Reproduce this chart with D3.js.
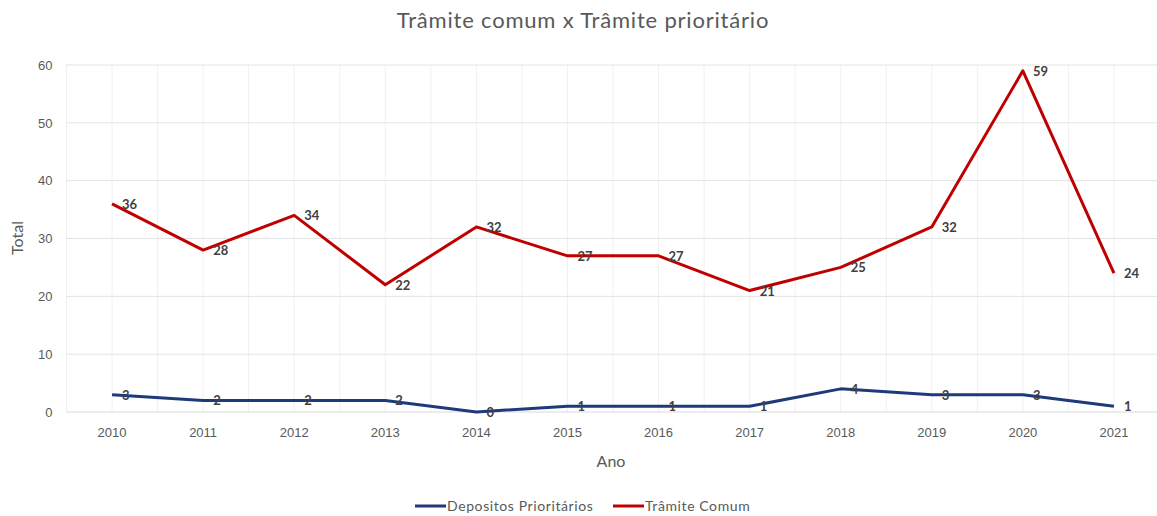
<!DOCTYPE html>
<html>
<head>
<meta charset="utf-8">
<script src="https://cdn.jsdelivr.net/npm/d3@7"></script>
<style>
  html, body { margin: 0; padding: 0; background: #fff; }
  svg { display: block; font-family: Lato, "Open Sans", "Liberation Sans", sans-serif; }
</style>
</head>
<body>
<svg id="chart" width="1157" height="516"></svg>
<script>
const anos = ["2010","2011","2012","2013","2014","2015","2016","2017","2018","2019","2020","2021"];
const depositosPrioritarios = [3,2,2,2,0,1,1,1,4,3,3,1];
const tramiteComum = [36,28,34,22,32,27,27,21,25,32,59,24];
const yTicks = [0,10,20,30,40,50,60];

const svg = d3.select("#chart");
const plotLeft = 66.5, plotRight = 1159.5, plotTop = 65, plotBottom = 412;

const x = d3.scaleBand().domain(anos).range([plotLeft, plotRight]);
const y = d3.scaleLinear().domain([0, 60]).range([plotBottom, plotTop]);
const cx = d => x(d) + x.bandwidth() / 2;

// vertical gridlines: category centres and boundaries
const vLines = [];
anos.forEach(a => { vLines.push(x(a)); vLines.push(cx(a)); });
svg.append("g").selectAll("line").data(vLines).join("line")
  .attr("x1", d => d).attr("x2", d => d)
  .attr("y1", plotTop).attr("y2", plotBottom)
  .attr("stroke", "#f0f0f0").attr("stroke-width", 1);

// horizontal gridlines
svg.append("g").selectAll("line").data(yTicks).join("line")
  .attr("x1", plotLeft).attr("x2", plotRight)
  .attr("y1", d => y(d)).attr("y2", d => y(d))
  .attr("stroke", d => d === 0 ? "#d9d9d9" : "#e3e3e3").attr("stroke-width", 1);

// y axis labels
const yAxis = d3.axisLeft(y).tickValues(yTicks).tickSize(0).tickPadding(14);
svg.append("g").attr("transform", `translate(${plotLeft},0)`).call(yAxis)
  .call(g => g.select(".domain").remove())
  .selectAll("text").attr("fill", "#595959").attr("font-size", 13);

// x axis labels
const xAxis = d3.axisBottom(x).tickSize(0).tickPadding(16);
svg.append("g").attr("transform", `translate(0,${plotBottom})`).call(xAxis)
  .call(g => g.select(".domain").remove())
  .selectAll("text").attr("fill", "#595959").attr("font-size", 13);

// title
svg.append("text").attr("x", 583).attr("y", 28).attr("text-anchor", "middle")
  .attr("fill", "#595959").attr("font-size", 22).attr("letter-spacing", 0.8)
  .text("Trâmite comum x Trâmite prioritário");

// axis titles
svg.append("text").attr("transform", "translate(23,238) rotate(-90)").attr("text-anchor", "middle")
  .attr("fill", "#595959").attr("font-size", 16).text("Total");
svg.append("text").attr("x", 611).attr("y", 467).attr("text-anchor", "middle")
  .attr("fill", "#595959").attr("font-size", 16).text("Ano");

const line = d3.line().x((d, i) => cx(anos[i])).y(d => y(d));

const series = [
  { name: "Depositos Prioritários", values: depositosPrioritarios, color: "#1f3a7a" },
  { name: "Trâmite Comum", values: tramiteComum, color: "#c00000" }
];

series.forEach(s => {
  svg.append("path").datum(s.values).attr("d", line)
    .attr("fill", "none").attr("stroke", s.color).attr("stroke-width", 3)
    .attr("stroke-linejoin", "round");
});

// data labels
series.forEach(s => {
  svg.append("g").selectAll("text").data(s.values).join("text")
    .attr("x", (d, i) => cx(anos[i]) + 10)
    .attr("y", d => y(d) + 5)
    .attr("fill", "#404040").attr("font-size", 13).attr("font-weight", "bold")
    .text(d => d);
});

// legend
const legend = [
  { name: series[0].name, color: series[0].color, x: 415 },
  { name: series[1].name, color: series[1].color, x: 613 }
];
const lg = svg.append("g");
legend.forEach(l => {
  lg.append("line").attr("x1", l.x).attr("x2", l.x + 31).attr("y1", 506).attr("y2", 506)
    .attr("stroke", l.color).attr("stroke-width", 3);
  lg.append("text").attr("x", l.x + 32).attr("y", 511).attr("fill", "#595959")
    .attr("font-size", 14).attr("letter-spacing", 0.6).text(l.name);
});
</script>
</body>
</html>
